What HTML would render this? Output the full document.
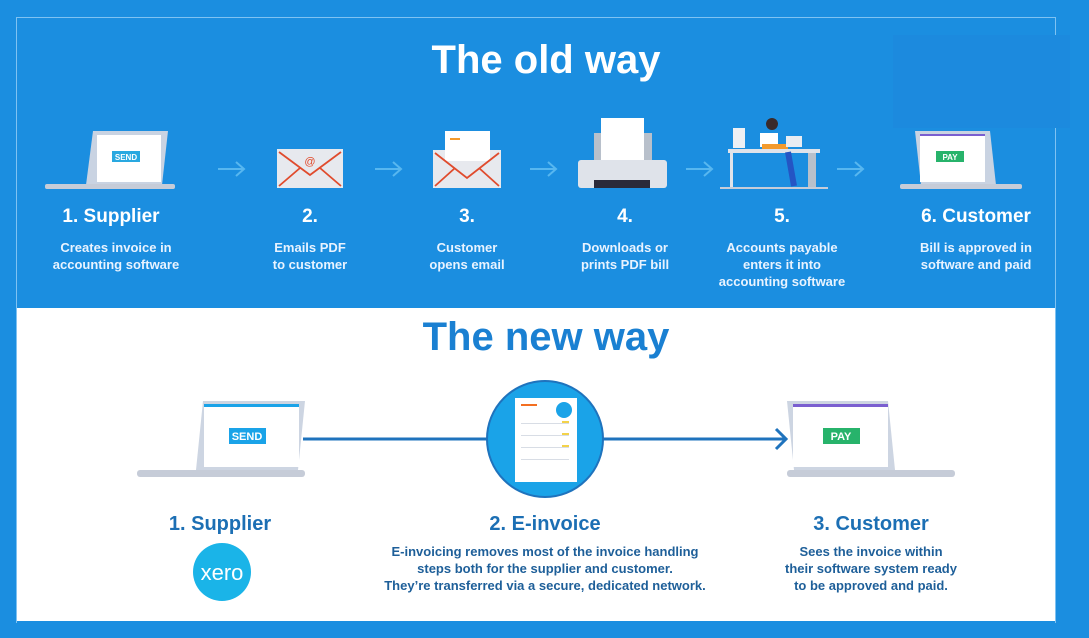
<!DOCTYPE html>
<html><head><meta charset="utf-8"><style>
*{margin:0;padding:0;box-sizing:border-box}
body{width:1089px;height:638px;overflow:hidden;background:#1b8ee0;font-family:"Liberation Sans",sans-serif;position:relative}
.a{position:absolute}
.t{position:absolute;text-align:center;font-weight:bold;white-space:nowrap;transform:translateX(-50%)}
.h{color:#fff;font-size:19px}
.d{color:#e8f3ff;font-size:13px;line-height:17px}
.nh{color:#1c6fb4;font-size:20px}
.nd{color:#1e5f99;font-size:13px;line-height:17px}
</style></head><body>
<div class="a" style="left:16px;top:17px;width:1040px;height:606px;border:1.5px solid #7fc2f2;border-bottom:none"></div>
<div class="a" style="left:893px;top:35px;width:177px;height:93px;background:#1c8ade"></div>
<div class="a" style="left:17px;top:308px;width:1038px;height:313px;background:#fff"></div>
<div class="t" style="left:546px;top:38px;font-size:40px;color:#fff">The old way</div>
<div class="t" style="left:546px;top:315px;font-size:40px;color:#1a80d2">The new way</div>

<svg class="a" style="left:0;top:0" width="1089" height="638">
<g stroke="#57b7f0" stroke-width="2" fill="none">
<path d="M218 169H244M236 162l8 7-8 7"/><path d="M375 169H401M393 162l8 7-8 7"/>
<path d="M530 169H556M548 162l8 7-8 7"/><path d="M686 169H712M704 162l8 7-8 7"/>
<path d="M837 169H863M855 162l8 7-8 7"/>
</g>
<polygon points="93,131 168,131 162,185 86,185" fill="#c9d3e2"/>
<rect x="97" y="135" width="64" height="47" fill="#fff"/>
<rect x="112" y="151" width="28" height="11" fill="#29a8e0"/><text x="126" y="160" font-size="8" fill="#fff" font-weight="bold" text-anchor="middle" font-family="Liberation Sans">SEND</text>
<rect x="45" y="184" width="130" height="5" rx="2" fill="#c6ccd8"/>
<rect x="277" y="149" width="66" height="39" fill="#e7e9ee"/>
<path d="M279 152L310 175L341 152M279 186L300 168M341 186L320 168" stroke="#e04b2d" stroke-width="1.8" fill="none"/>
<text x="310" y="165" font-size="11" fill="#e04b2d" text-anchor="middle">@</text>
<rect x="433" y="150" width="68" height="38" fill="#e7e9ee"/>
<rect x="445" y="131" width="45" height="30" fill="#fff"/><rect x="450" y="138" width="10" height="2" fill="#f39a2c"/>
<path d="M435 153L467 178L499 153M435 186L455 168M499 186L479 168" stroke="#e04b2d" stroke-width="1.8" fill="none"/>
<rect x="594" y="133" width="58" height="30" fill="#b8c0cb"/>
<rect x="601" y="118" width="43" height="42" fill="#fff"/>
<rect x="578" y="160" width="89" height="28" rx="3" fill="#dfe3ea"/>
<rect x="594" y="180" width="56" height="8" fill="#2a2a3a"/>
<rect x="728" y="149" width="92" height="4" fill="#dfe3ea"/>
<rect x="730" y="153" width="3" height="34" fill="#dfe3ea"/><rect x="808" y="153" width="8" height="34" fill="#b8c0cb"/>
<rect x="720" y="187" width="108" height="2" fill="#c6ccd8"/>
<rect x="733" y="128" width="12" height="20" fill="#eef0f4"/>
<circle cx="772" cy="124" r="6" fill="#3a2a2a"/><rect x="760" y="133" width="18" height="14" fill="#fff"/>
<rect x="762" y="144" width="26" height="5" fill="#f39a2c"/><path d="M788 152l6 34" stroke="#2455c4" stroke-width="6"/>
<rect x="786" y="136" width="16" height="11" fill="#e8ecf2"/>
<polygon points="915,131 990,131 996,185 921,185" fill="#c9d3e2"/>
<rect x="920" y="135" width="65" height="47" fill="#fff"/><rect x="920" y="134" width="65" height="2" fill="#7a5fd0"/>
<rect x="936" y="151" width="28" height="11" fill="#27b36b"/><text x="950" y="160" font-size="8" fill="#fff" font-weight="bold" text-anchor="middle" font-family="Liberation Sans">PAY</text>
<rect x="900" y="184" width="122" height="5" rx="2" fill="#c6ccd8"/>

<path d="M303 439H490M601 439H785" stroke="#1f73bd" stroke-width="3"/>
<path d="M776 429l10 10-10 10" stroke="#1f73bd" stroke-width="3" fill="none"/>
<circle cx="545" cy="439" r="58" fill="#1aa3e8" stroke="#1f73bd" stroke-width="2"/>
<rect x="515" y="398" width="62" height="84" fill="#fff"/>
<rect x="521" y="404" width="16" height="2" fill="#f36f21"/>
<circle cx="564" cy="410" r="8" fill="#1aa3e8"/>
<g fill="#d8dde5"><rect x="521" y="423" width="48" height="1"/><rect x="521" y="435" width="48" height="1"/><rect x="521" y="447" width="48" height="1"/><rect x="521" y="459" width="48" height="1"/></g>
<g fill="#f3d24a"><rect x="562" y="421" width="7" height="2"/><rect x="562" y="433" width="7" height="2"/><rect x="562" y="445" width="7" height="2"/></g>
<polygon points="203,401 305,401 298,470 196,470" fill="#cdd5e2"/>
<rect x="204" y="405" width="95" height="62" fill="#fff"/><rect x="204" y="404" width="95" height="3" fill="#1aa3e8"/>
<rect x="229" y="428" width="37" height="16" fill="#1aa3e8"/><text x="247" y="440" font-size="11" fill="#fff" font-weight="bold" text-anchor="middle" font-family="Liberation Sans">SEND</text>
<rect x="137" y="470" width="168" height="7" rx="3" fill="#c6ccd8"/>
<polygon points="787,401 888,401 895,470 794,470" fill="#cdd5e2"/>
<rect x="793" y="405" width="95" height="62" fill="#fff"/><rect x="793" y="404" width="95" height="3" fill="#7a5fd0"/>
<rect x="823" y="428" width="37" height="16" fill="#27b36b"/><text x="841" y="440" font-size="11" fill="#fff" font-weight="bold" text-anchor="middle" font-family="Liberation Sans">PAY</text>
<rect x="787" y="470" width="168" height="7" rx="3" fill="#c6ccd8"/>
<circle cx="222" cy="572" r="29" fill="#1ab4e8"/>
<text x="222" y="580" font-size="22" fill="#fff" text-anchor="middle" font-family="Liberation Sans">xero</text>
</svg>

<div class="t h" style="left:111px;top:206px">1. Supplier</div>
<div class="t d" style="left:116px;top:239px">Creates invoice in<br>accounting software</div>
<div class="t h" style="left:310px;top:206px">2.</div>
<div class="t d" style="left:310px;top:239px">Emails PDF<br>to customer</div>
<div class="t h" style="left:467px;top:206px">3.</div>
<div class="t d" style="left:467px;top:239px">Customer<br>opens email</div>
<div class="t h" style="left:625px;top:206px">4.</div>
<div class="t d" style="left:625px;top:239px">Downloads or<br>prints PDF bill</div>
<div class="t h" style="left:782px;top:206px">5.</div>
<div class="t d" style="left:782px;top:239px">Accounts payable<br>enters it into<br>accounting software</div>
<div class="t h" style="left:976px;top:206px">6. Customer</div>
<div class="t d" style="left:976px;top:239px">Bill is approved in<br>software and paid</div>

<div class="t nh" style="left:220px;top:513px">1. Supplier</div>
<div class="t nh" style="left:545px;top:513px">2. E-invoice</div>
<div class="t nd" style="left:545px;top:543px">E-invoicing removes most of the invoice handling<br>steps both for the supplier and customer.<br>They’re transferred via a secure, dedicated network.</div>
<div class="t nh" style="left:871px;top:513px">3. Customer</div>
<div class="t nd" style="left:871px;top:543px">Sees the invoice within<br>their software system ready<br>to be approved and paid.</div>
</body></html>
